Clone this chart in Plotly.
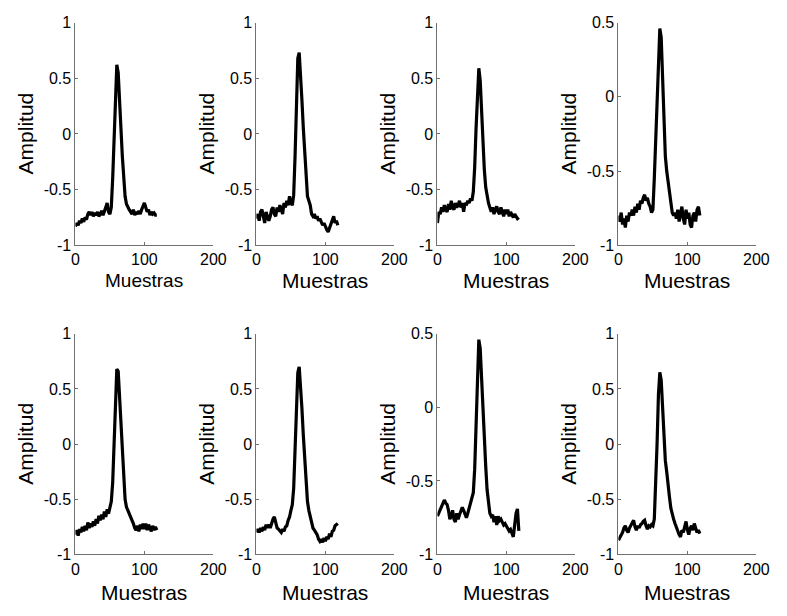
import plotly.graph_objects as go

W, H = 787, 616

samples = list(range(0, 120, 2))

amp_1 = [-0.83, -0.80, -0.82, -0.78, -0.80, -0.76, -0.79, -0.75, -0.77, -0.72,
         -0.70, -0.73, -0.70, -0.74, -0.71, -0.73, -0.70, -0.74, -0.72, -0.69,
         -0.73, -0.70, -0.66, -0.62, -0.70, -0.72, -0.66, -0.40, 0.00, 0.45,
         0.62, 0.55, 0.35, 0.05, -0.20, -0.42, -0.56, -0.63, -0.66, -0.68,
         -0.70, -0.72, -0.68, -0.73, -0.70, -0.72, -0.69, -0.72, -0.68, -0.64,
         -0.62, -0.66, -0.70, -0.68, -0.73, -0.70, -0.72, -0.71, -0.73, -0.73]
amp_2 = [-0.76, -0.72, -0.78, -0.70, -0.68, -0.76, -0.80, -0.70, -0.74, -0.78,
         -0.74, -0.68, -0.66, -0.72, -0.74, -0.66, -0.70, -0.64, -0.68, -0.72,
         -0.62, -0.66, -0.60, -0.64, -0.56, -0.62, -0.64, -0.55, -0.20, 0.30,
         0.68, 0.73, 0.55, 0.30, 0.05, -0.20, -0.42, -0.56, -0.60, -0.64,
         -0.72, -0.74, -0.72, -0.76, -0.74, -0.78, -0.76, -0.80, -0.82, -0.80,
         -0.84, -0.86, -0.88, -0.84, -0.80, -0.76, -0.74, -0.80, -0.78, -0.82]
amp_3 = [-0.80, -0.70, -0.72, -0.66, -0.70, -0.64, -0.68, -0.70, -0.63, -0.68,
         -0.60, -0.66, -0.68, -0.62, -0.66, -0.64, -0.60, -0.66, -0.62, -0.70,
         -0.62, -0.64, -0.60, -0.62, -0.58, -0.60, -0.52, -0.30, 0.05, 0.42,
         0.59, 0.48, 0.20, -0.10, -0.32, -0.48, -0.56, -0.62, -0.66, -0.70,
         -0.66, -0.72, -0.68, -0.65, -0.70, -0.72, -0.66, -0.70, -0.74, -0.68,
         -0.72, -0.68, -0.74, -0.70, -0.72, -0.75, -0.72, -0.74, -0.76, -0.75]
amp_4 = [-0.80, -0.84, -0.78, -0.86, -0.82, -0.88, -0.80, -0.84, -0.78, -0.80,
         -0.76, -0.80, -0.74, -0.78, -0.72, -0.76, -0.70, -0.72, -0.68, -0.66,
         -0.70, -0.68, -0.72, -0.74, -0.78, -0.76, -0.55, -0.30, 0.00, 0.30,
         0.46, 0.40, 0.15, -0.15, -0.40, -0.50, -0.58, -0.65, -0.74, -0.78,
         -0.80, -0.78, -0.82, -0.76, -0.84, -0.78, -0.74, -0.82, -0.86, -0.76,
         -0.82, -0.78, -0.86, -0.88, -0.80, -0.78, -0.84, -0.76, -0.74, -0.80]
amp_5 = [-0.82, -0.78, -0.83, -0.77, -0.80, -0.75, -0.79, -0.74, -0.78, -0.71,
         -0.76, -0.72, -0.75, -0.70, -0.74, -0.68, -0.72, -0.65, -0.69, -0.64,
         -0.68, -0.61, -0.66, -0.59, -0.63, -0.56, -0.52, -0.35, 0.00, 0.45,
         0.68, 0.66, 0.45, 0.20, -0.05, -0.30, -0.50, -0.57, -0.60, -0.62,
         -0.66, -0.68, -0.72, -0.76, -0.78, -0.74, -0.79, -0.73, -0.77, -0.72,
         -0.77, -0.72, -0.78, -0.73, -0.77, -0.79, -0.74, -0.78, -0.75, -0.78]
amp_6 = [-0.80, -0.77, -0.80, -0.76, -0.79, -0.75, -0.78, -0.73, -0.76, -0.73,
         -0.76, -0.71, -0.68, -0.66, -0.72, -0.76, -0.77, -0.79, -0.80, -0.77,
         -0.79, -0.75, -0.74, -0.69, -0.66, -0.60, -0.55, -0.40, -0.05, 0.40,
         0.65, 0.70, 0.55, 0.32, 0.08, -0.15, -0.35, -0.52, -0.60, -0.66,
         -0.72, -0.76, -0.78, -0.80, -0.82, -0.86, -0.88, -0.86, -0.89, -0.85,
         -0.88, -0.84, -0.86, -0.81, -0.84, -0.79, -0.78, -0.74, -0.73, -0.72]
amp_7 = [-0.74, -0.72, -0.70, -0.68, -0.66, -0.63, -0.65, -0.66, -0.70, -0.76,
         -0.74, -0.70, -0.76, -0.78, -0.72, -0.76, -0.73, -0.70, -0.68, -0.70,
         -0.73, -0.75, -0.72, -0.68, -0.65, -0.62, -0.58, -0.42, -0.10, 0.25,
         0.46, 0.40, 0.18, -0.05, -0.22, -0.40, -0.56, -0.66, -0.72, -0.74,
         -0.73, -0.78, -0.74, -0.80, -0.74, -0.77, -0.76, -0.78, -0.80, -0.79,
         -0.81, -0.82, -0.84, -0.83, -0.86, -0.88, -0.80, -0.72, -0.69, -0.84]
amp_8 = [-0.87, -0.85, -0.83, -0.80, -0.76, -0.74, -0.78, -0.80, -0.76, -0.74,
         -0.71, -0.69, -0.75, -0.78, -0.74, -0.76, -0.73, -0.72, -0.70, -0.69,
         -0.74, -0.77, -0.74, -0.75, -0.73, -0.74, -0.68, -0.40, 0.00, 0.45,
         0.65, 0.58, 0.35, 0.05, -0.15, -0.25, -0.40, -0.48, -0.58, -0.64,
         -0.68, -0.72, -0.76, -0.78, -0.82, -0.84, -0.78, -0.80, -0.76, -0.70,
         -0.78, -0.82, -0.76, -0.74, -0.78, -0.72, -0.76, -0.80, -0.78, -0.81]

series = [amp_1, amp_2, amp_3, amp_4, amp_5, amp_6, amp_7, amp_8]
y_tops = [1, 1, 1, 0.5, 1, 1, 0.5, 1]
x_ticks = [0, 100, 200]
y_ticks_full = [-1, -0.5, 0, 0.5, 1]
y_ticktext_full = ["-1", "-0.5", "0", "0.5", "1"]

FONT = "Liberation Sans, Arial, sans-serif"

col_left = [73, 258, 443, 628]
col_w = 141
row_top = [15, 335]
row_bot = [244, 562]
xlab_y = [280, 601]

fig = go.Figure()
annotations = []
for i, amp in enumerate(series):
    r, c = divmod(i, 4)
    n = i + 1
    xa = "x" if n == 1 else f"x{n}"
    ya = "y" if n == 1 else f"y{n}"
    fig.add_trace(go.Scatter(x=samples, y=amp, mode="lines",
                             line=dict(color="black", width=3.2),
                             xaxis=xa, yaxis=ya, showlegend=False,
                             hoverinfo="skip"))
    x0 = col_left[c] / W
    x1 = (col_left[c] + col_w) / W
    y0 = 1 - row_bot[r] / H
    y1 = 1 - row_top[r] / H
    top = y_tops[i]
    tv = [v for v in y_ticks_full if v <= top]
    tt = [t for v, t in zip(y_ticks_full, y_ticktext_full) if v <= top]
    axis_common = dict(showline=True, linecolor="#707070", linewidth=1,
                       ticks="inside", ticklen=3, tickcolor="#707070",
                       showgrid=False, zeroline=False,
                       tickfont=dict(family=FONT, size=16, color="black"))
    fig.layout[("xaxis" if n == 1 else f"xaxis{n}")] = dict(
        domain=[x0, x1], anchor=ya, range=[0, 200],
        tickvals=x_ticks, ticktext=[str(v) for v in x_ticks], **axis_common)
    fig.layout[("yaxis" if n == 1 else f"yaxis{n}")] = dict(
        domain=[y0, y1], anchor=xa, range=[-1, top],
        tickvals=tv, ticktext=tt, **axis_common)
    annotations.append(dict(
        text="Amplitud", textangle=-90, xref="paper", yref="paper",
        x=(col_left[c] - 51) / W, y=1 - (row_top[r] + row_bot[r]) / 2 / H,
        xanchor="center", yanchor="middle", showarrow=False,
        font=dict(family=FONT, size=21, color="black")))
    annotations.append(dict(
        text="Muestras", xref="paper", yref="paper",
        x=(col_left[c] + col_w / 2) / W, y=1 - xlab_y[r] / H,
        xanchor="center", yanchor="middle", showarrow=False,
        font=dict(family=FONT, size=(19 if i == 0 else 21), color="black")))

fig.update_layout(width=W, height=H, margin=dict(l=0, r=0, t=0, b=0),
                  paper_bgcolor="white", plot_bgcolor="white",
                  annotations=annotations)

fig.write_html("out.html")
